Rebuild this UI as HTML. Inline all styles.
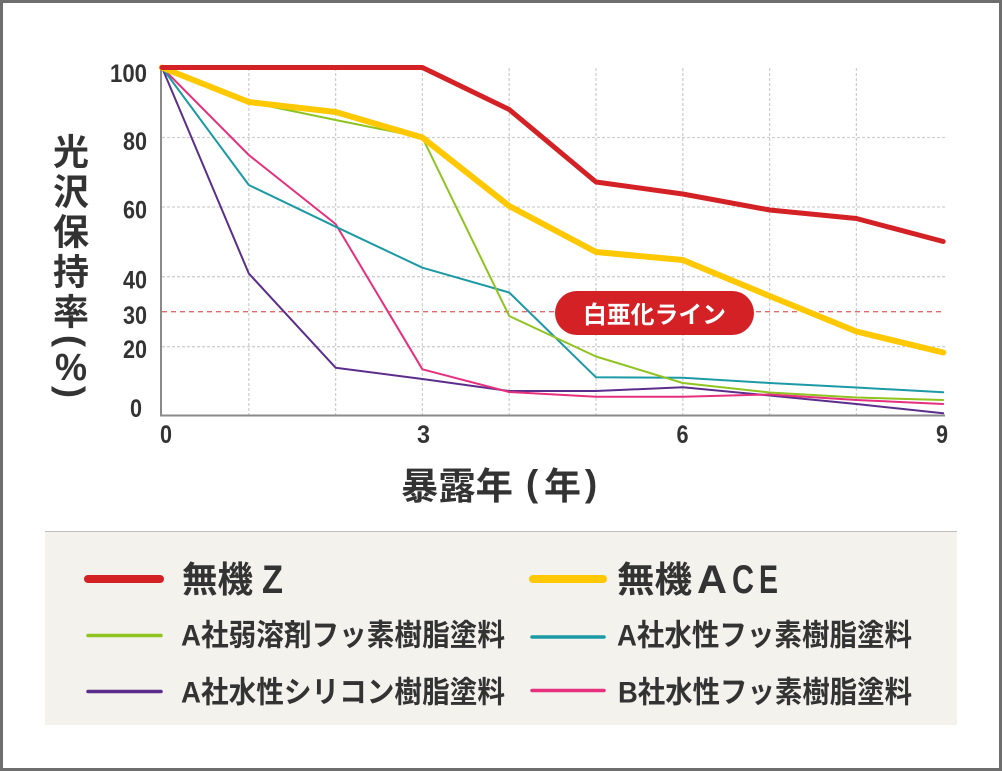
<!DOCTYPE html>
<html><head><meta charset="utf-8"><style>
html,body{margin:0;padding:0;background:#fff;}
body{width:1002px;height:771px;overflow:hidden;}
svg{display:block;}
</style></head><body>
<svg width="1002" height="771" viewBox="0 0 1002 771" xmlns="http://www.w3.org/2000/svg">
<rect x="0" y="0" width="1002" height="771" fill="#fff"/>
<rect x="1.5" y="1.5" width="999" height="768" fill="none" stroke="#6e6e6e" stroke-width="3"/>

<!-- grid -->
<g stroke="#cfcfcf" stroke-width="1.3" stroke-dasharray="3,2" fill="none">
<line x1="248.8" y1="68" x2="248.8" y2="415"/>
<line x1="335.6" y1="68" x2="335.6" y2="415"/>
<line x1="422.4" y1="68" x2="422.4" y2="415"/>
<line x1="509.2" y1="68" x2="509.2" y2="415"/>
<line x1="596" y1="68" x2="596" y2="415"/>
<line x1="682.8" y1="68" x2="682.8" y2="415"/>
<line x1="769.6" y1="68" x2="769.6" y2="415"/>
<line x1="856.4" y1="68" x2="856.4" y2="415"/>
<line x1="162" y1="137.5" x2="945" y2="137.5"/>
<line x1="162" y1="207" x2="945" y2="207"/>
<line x1="162" y1="276.7" x2="945" y2="276.7"/>
<line x1="162" y1="346.7" x2="945" y2="346.7"/>
</g>
<line x1="162" y1="311.7" x2="945" y2="311.7" stroke="#e26a6a" stroke-width="1.3" stroke-dasharray="5,4"/>

<!-- axes -->
<line x1="161" y1="67" x2="161" y2="416.5" stroke="#8a8a8a" stroke-width="2"/>
<line x1="160" y1="415.5" x2="945" y2="415.5" stroke="#8a8a8a" stroke-width="2"/>

<!-- series -->
<g fill="none" stroke-linejoin="round" stroke-linecap="round">
<polyline stroke="#5b2e8c" stroke-width="2" points="162,67.5 248.8,273.5 335.6,367.7 422.4,379 509.2,391 596,391 682.8,387.3 769.6,395.5 856.4,404 943.2,413.3"/>
<polyline stroke="#e6307e" stroke-width="2" points="162,67.5 248.8,155 335.6,224 422.4,369.3 509.2,392 596,396.7 682.8,396.7 769.6,394.5 856.4,400 943.2,404"/>
<polyline stroke="#1b9aa6" stroke-width="2" points="162,67.5 248.8,185 335.6,226.7 422.4,267.7 509.2,292.5 596,377.3 682.8,377.7 769.6,383 856.4,387.5 943.2,392.3"/>
<polyline stroke="#8fc31f" stroke-width="2" points="162,67.5 248.8,102 335.6,120 422.4,137.5 509.2,316 596,356.5 682.8,383 769.6,392.5 856.4,397.5 943.2,400"/>
<polyline stroke="#ffc800" stroke-width="6" points="162,67.5 248.8,102 335.6,112 422.4,137.5 509.2,206 596,252 682.8,260 769.6,296 856.4,331.5 943.2,352.5"/>
<polyline stroke="#d42126" stroke-width="5" points="162,67.5 248.8,67.5 335.6,67.5 422.4,67.5 509.2,109.5 596,182 682.8,194 769.6,210 856.4,218.5 943.2,241.5"/>
</g>

<!-- badge -->
<rect x="555" y="291" width="199" height="44" rx="22" ry="22" fill="#d42126"/>
<text x="654.5" y="323" text-anchor="middle" font-family="'Liberation Sans','Noto Sans CJK JP',sans-serif" font-weight="bold" font-size="24" fill="#fff" textLength="143" lengthAdjust="spacingAndGlyphs">白亜化ライン</text>

<!-- y ticks -->
<g font-family="'Liberation Sans',sans-serif" font-weight="bold" font-size="25" fill="#333" text-anchor="end">
<text x="147" y="82" textLength="37" lengthAdjust="spacingAndGlyphs">100</text>
<text x="147" y="150" textLength="24" lengthAdjust="spacingAndGlyphs">80</text>
<text x="147" y="218.5" textLength="24" lengthAdjust="spacingAndGlyphs">60</text>
<text x="147" y="288.5" textLength="24" lengthAdjust="spacingAndGlyphs">40</text>
<text x="147" y="324" textLength="24" lengthAdjust="spacingAndGlyphs">30</text>
<text x="147" y="358" textLength="24" lengthAdjust="spacingAndGlyphs">20</text>
<text x="142" y="417" textLength="12" lengthAdjust="spacingAndGlyphs">0</text>
</g>
<!-- x ticks -->
<g font-family="'Liberation Sans',sans-serif" font-weight="bold" font-size="25" fill="#333" text-anchor="middle">
<text x="166" y="443" textLength="12" lengthAdjust="spacingAndGlyphs">0</text>
<text x="423.5" y="443" textLength="13" lengthAdjust="spacingAndGlyphs">3</text>
<text x="682.5" y="443" textLength="12" lengthAdjust="spacingAndGlyphs">6</text>
<text x="942" y="443" textLength="12" lengthAdjust="spacingAndGlyphs">9</text>
</g>

<!-- y title -->
<g font-family="'Liberation Sans','Noto Sans CJK JP',sans-serif" font-weight="bold" font-size="36" fill="#333" text-anchor="middle">
<text x="71" y="164.5">光</text>
<text x="71" y="204.5">沢</text>
<text x="71" y="244.5">保</text>
<text x="71" y="284.5">持</text>
<text x="71" y="324.5">率</text>
<text x="0" y="0" transform="translate(71,341) rotate(90)" dy="12" font-size="36">(</text>
<text x="71" y="380" font-size="38" textLength="32" lengthAdjust="spacingAndGlyphs">%</text>
<text x="0" y="0" transform="translate(71,392) rotate(90)" dy="12" font-size="36">)</text>
</g>

<!-- x title -->
<g font-family="'Liberation Sans','Noto Sans CJK JP',sans-serif" font-weight="bold" font-size="37" fill="#333">
<text x="401" y="499" textLength="112" lengthAdjust="spacingAndGlyphs">暴露年</text>
<text x="532" y="496" text-anchor="middle">(</text>
<text x="562.5" y="499" text-anchor="middle">年</text>
<text x="591" y="496" text-anchor="middle">)</text>
</g>

<!-- legend -->
<rect x="45" y="531" width="912" height="194" fill="#f3f2ed"/>
<line x1="45" y1="531.5" x2="957" y2="531.5" stroke="#bdbdbd" stroke-width="1"/>
<g stroke-linecap="round">
<line x1="88" y1="579" x2="160" y2="579" stroke="#d42126" stroke-width="8"/>
<line x1="533" y1="579" x2="603" y2="579" stroke="#ffc800" stroke-width="8"/>
<line x1="88" y1="635.5" x2="161" y2="635.5" stroke="#8fc31f" stroke-width="3.5"/>
<line x1="532" y1="637" x2="604" y2="637" stroke="#1b9aa6" stroke-width="3.5"/>
<line x1="88" y1="691.5" x2="161" y2="691.5" stroke="#5b2e8c" stroke-width="3.5"/>
<line x1="532" y1="690.5" x2="604" y2="690.5" stroke="#e6307e" stroke-width="3.5"/>
</g>
<g font-family="'Liberation Sans','Noto Sans CJK JP',sans-serif" font-weight="bold" fill="#333">
<text x="182" y="592" font-size="36" textLength="71" lengthAdjust="spacingAndGlyphs">無機</text>
<text x="262" y="593" font-size="40" textLength="21" lengthAdjust="spacingAndGlyphs">Z</text>
<text x="617" y="592" font-size="36" textLength="75" lengthAdjust="spacingAndGlyphs">無機</text>
<text x="697" y="593" font-size="40" textLength="30" lengthAdjust="spacingAndGlyphs">A</text>
<text x="732" y="593" font-size="40" textLength="22" lengthAdjust="spacingAndGlyphs">C</text>
<text x="759" y="593" font-size="40" textLength="19" lengthAdjust="spacingAndGlyphs">E</text>
<text x="181" y="645.5" font-size="30" textLength="324" lengthAdjust="spacingAndGlyphs">A社弱溶剤フッ素樹脂塗料</text>
<text x="181" y="702.5" font-size="30" textLength="324" lengthAdjust="spacingAndGlyphs">A社水性シリコン樹脂塗料</text>
<text x="617" y="645.5" font-size="30" textLength="295" lengthAdjust="spacingAndGlyphs">A社水性フッ素樹脂塗料</text>
<text x="618" y="702.5" font-size="30" textLength="294" lengthAdjust="spacingAndGlyphs">B社水性フッ素樹脂塗料</text>
</g>
</svg>
</body></html>
